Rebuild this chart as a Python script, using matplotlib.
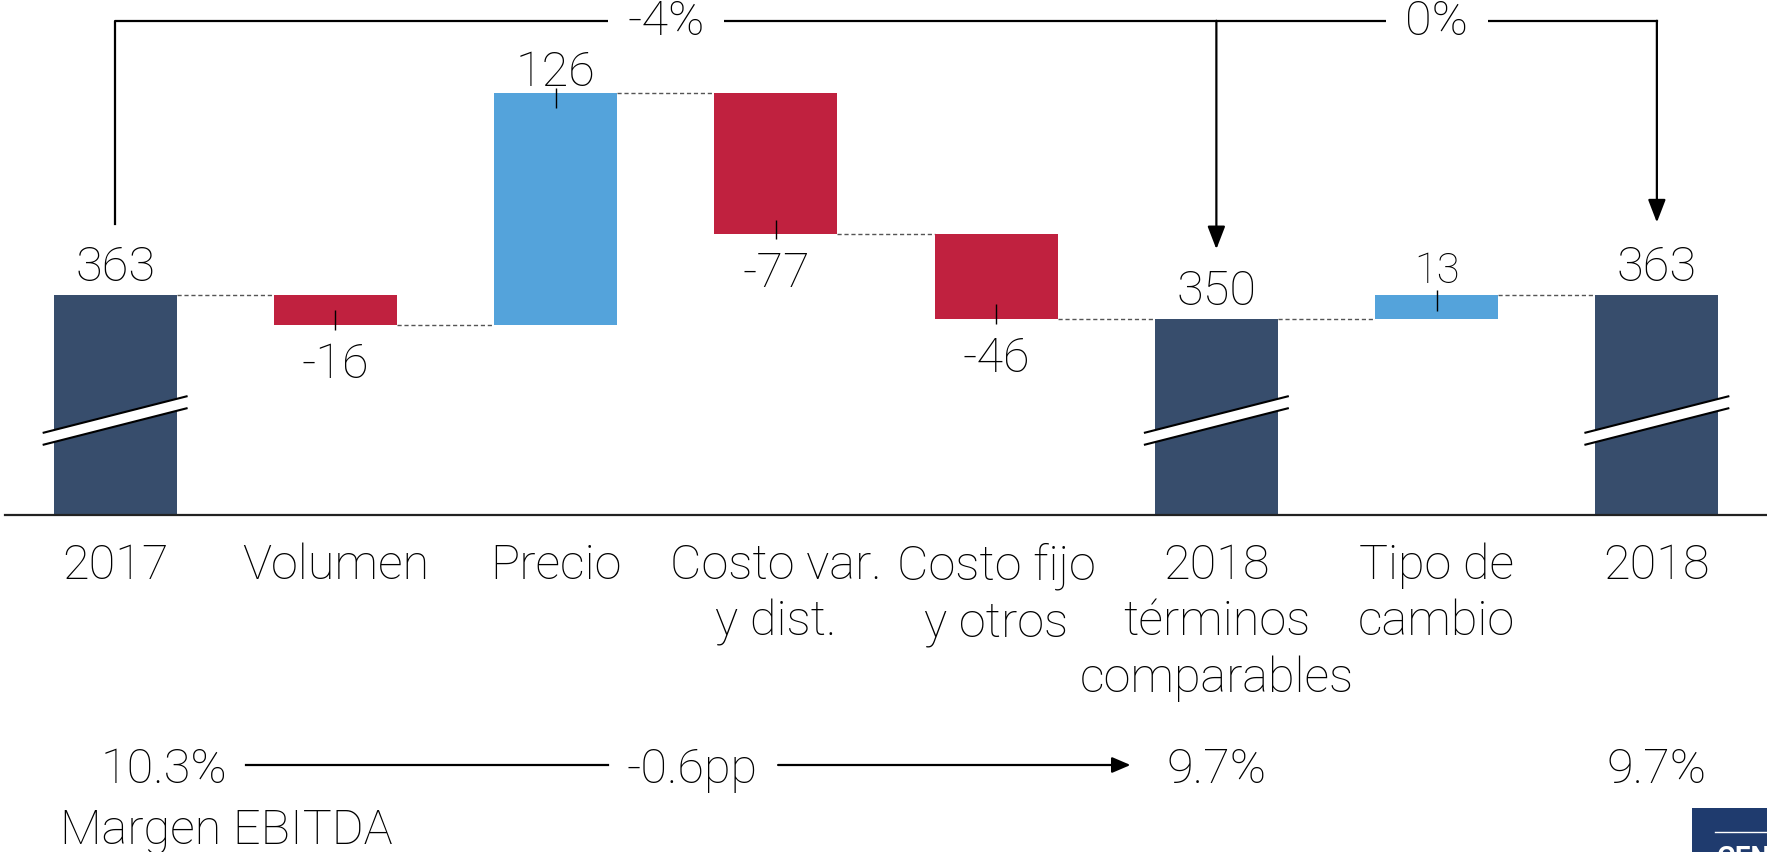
import matplotlib
matplotlib.use('Agg')
import matplotlib.pyplot as plt
from matplotlib.patches import Polygon, Rectangle
from matplotlib.transforms import blended_transform_factory

plt.rcParams['font.family'] = ['Roboto', 'DejaVu Sans']
plt.rcParams['font.weight'] = 'light'

# Waterfall data (EBITDA, millones)
categories = ['2017', 'Volumen', 'Precio', 'Costo var.\ny dist.', 'Costo fijo\ny otros',
              '2018\ntérminos\ncomparables', 'Tipo de\ncambio', '2018']
values = [363, -16, 126, -77, -46, 350, 13, 363]
is_total = [True, False, False, False, False, True, False, True]

# Growth brackets on top
growth_labels = ['-4%', '0%']

# Margen EBITDA row
margin_pos = [0, 5, 7]
margin_labels = ['10.3%', '9.7%', '9.7%']
margin_delta = '-0.6pp'

navy = '#374d6c'
red = '#c0213f'
blue = '#54a3db'

fig = plt.figure(figsize=(17.67, 8.53), dpi=100)
ax = fig.add_axes([5 / 1767, 1 - 516 / 853, 1 - 5 / 1767, 516 / 853])
ax.set_xlim(-0.5, 7.5)
ax.set_ylim(243.7, 523.8)

width = 0.558
hw = width / 2
fs = 35

# compute bottoms / tops
bottoms, tops = [], []
running = 0
for v, tot in zip(values, is_total):
    if tot:
        bottoms.append(0)
        tops.append(v)
        running = v
    else:
        bottoms.append(running)
        running += v
        tops.append(running)

colors = []
for v, tot in zip(values, is_total):
    if tot:
        colors.append(navy)
    else:
        colors.append(blue if v > 0 else red)

heights = [t - b for t, b in zip(tops, bottoms)]
ax.bar(range(len(values)), heights, bottom=bottoms, width=width, color=colors, zorder=2)

# connectors
levels = [tops[i] for i in range(len(values) - 1)]
for i, lvl in enumerate(levels):
    ax.hlines(lvl, i + hw, i + 1 - hw, colors='#555555', linestyles=(0, (3, 2)), lw=1, zorder=1)

# labels and small ticks
for i, (v, tot) in enumerate(zip(values, is_total)):
    if tot:
        ax.text(i, tops[i] + 15.5, str(v), ha='center', va='center', fontsize=fs)
    elif v > 0:
        ax.vlines(i, tops[i] - 8.5, tops[i] + 2.7, colors='black', lw=1, zorder=3)
        size = fs if v > 50 else 30
        ax.text(i, tops[i] + (11.5 if v > 50 else 13.5), str(v), ha='center', va='center', fontsize=size)
    else:
        ax.vlines(i, tops[i] - 2.7, tops[i] + 8, colors='black', lw=1, zorder=3)
        ax.text(i, tops[i] - 21, str(v), ha='center', va='center', fontsize=fs)

# axis breaks on total bars
brk_y, rise, gap, ext = 295, 20, 6.5, 0.05
for i, tot in enumerate(is_total):
    if not tot:
        continue
    x0, x1 = i - hw - ext, i + hw + ext
    up0, up1 = brk_y - rise / 2 + gap / 2, brk_y + rise / 2 + gap / 2
    lo0, lo1 = brk_y - rise / 2 - gap / 2, brk_y + rise / 2 - gap / 2
    ax.add_patch(Polygon([(x0, up0), (x1, up1), (x1, lo1), (x0, lo0)], closed=True,
                         facecolor='white', edgecolor='none', zorder=4))
    ax.plot([x0, x1], [up0, up1], color='black', lw=1.5, zorder=5, solid_capstyle='butt')
    ax.plot([x0, x1], [lo0, lo1], color='black', lw=1.5, zorder=5, solid_capstyle='butt')

# growth bracket
br_y = 512
ax.plot([0, 0, 7], [tops[0] + 38.5, br_y, br_y], color='black', lw=1.6, zorder=3)
arrow = dict(arrowstyle='-|>,head_length=0.7,head_width=0.27', mutation_scale=20,
             lw=1.6, color='black', shrinkA=0, shrinkB=0)
ax.annotate('', xy=(5, tops[5] + 38), xytext=(5, br_y), arrowprops=arrow)
ax.annotate('', xy=(7, tops[7] + 39.5), xytext=(7, br_y), arrowprops=arrow)
box = dict(boxstyle='square,pad=0.4', facecolor='white', edgecolor='none')
ax.text(2.5, br_y, growth_labels[0], ha='center', va='center', fontsize=fs, bbox=box, zorder=4)
ax.text(6.0, br_y, growth_labels[1], ha='center', va='center', fontsize=fs, bbox=box, zorder=4)

# axis styling
for s in ['top', 'left', 'right']:
    ax.spines[s].set_visible(False)
ax.spines['bottom'].set_linewidth(1.6)
ax.spines['bottom'].set_color('#222222')
ax.set_yticks([])
ax.set_xticks(range(len(categories)))
ax.set_xticklabels(categories, fontsize=fs, linespacing=1.27)
ax.tick_params(axis='x', length=0, pad=19)

# margin row
tr = blended_transform_factory(ax.transData, fig.transFigure)
row_y = 1 - 770 / 853
ax.text(0.22, row_y, margin_labels[0], transform=tr, ha='center', va='center', fontsize=fs, clip_on=False)
ax.text(margin_pos[1], row_y, margin_labels[1], transform=tr, ha='center', va='center', fontsize=fs, clip_on=False)
ax.text(margin_pos[2], row_y, margin_labels[2], transform=tr, ha='center', va='center', fontsize=fs, clip_on=False)
ax.text(2.62, row_y, margin_delta, transform=tr, ha='center', va='center', fontsize=fs, clip_on=False)
line_y = 1 - 766 / 853
ax.plot([0.595, 2.24], [line_y, line_y], transform=tr, color='black', lw=1.6, clip_on=False)
ax.annotate('', xy=(4.61, line_y), xytext=(3.01, line_y), xycoords=tr, textcoords=tr,
            arrowprops=dict(arrowstyle='-|>,head_length=0.7,head_width=0.3', mutation_scale=16,
                            lw=1.6, color='black', shrinkA=0, shrinkB=0))
fig.text(60 / 1767, 1 - 831 / 853, 'Margen EBITDA', ha='left', va='center', fontsize=fs)

# corner logo (cut off at the page edge, as in the source slide)
fig.patches.append(Rectangle((1692 / 1767, 0), 1 - 1692 / 1767, 1 - 809 / 853,
                             transform=fig.transFigure, facecolor='#1f3b6e', edgecolor='none'))
fig.lines.append(plt.Line2D([1715 / 1767, 1], [1 - 833 / 853] * 2, transform=fig.transFigure,
                            color='white', lw=1))
fig.text(1717 / 1767, 1 - 845 / 853, 'GEN', ha='left', va='top', fontsize=20,
         color='white', fontweight='bold')

fig.savefig('out.png', dpi=100)
